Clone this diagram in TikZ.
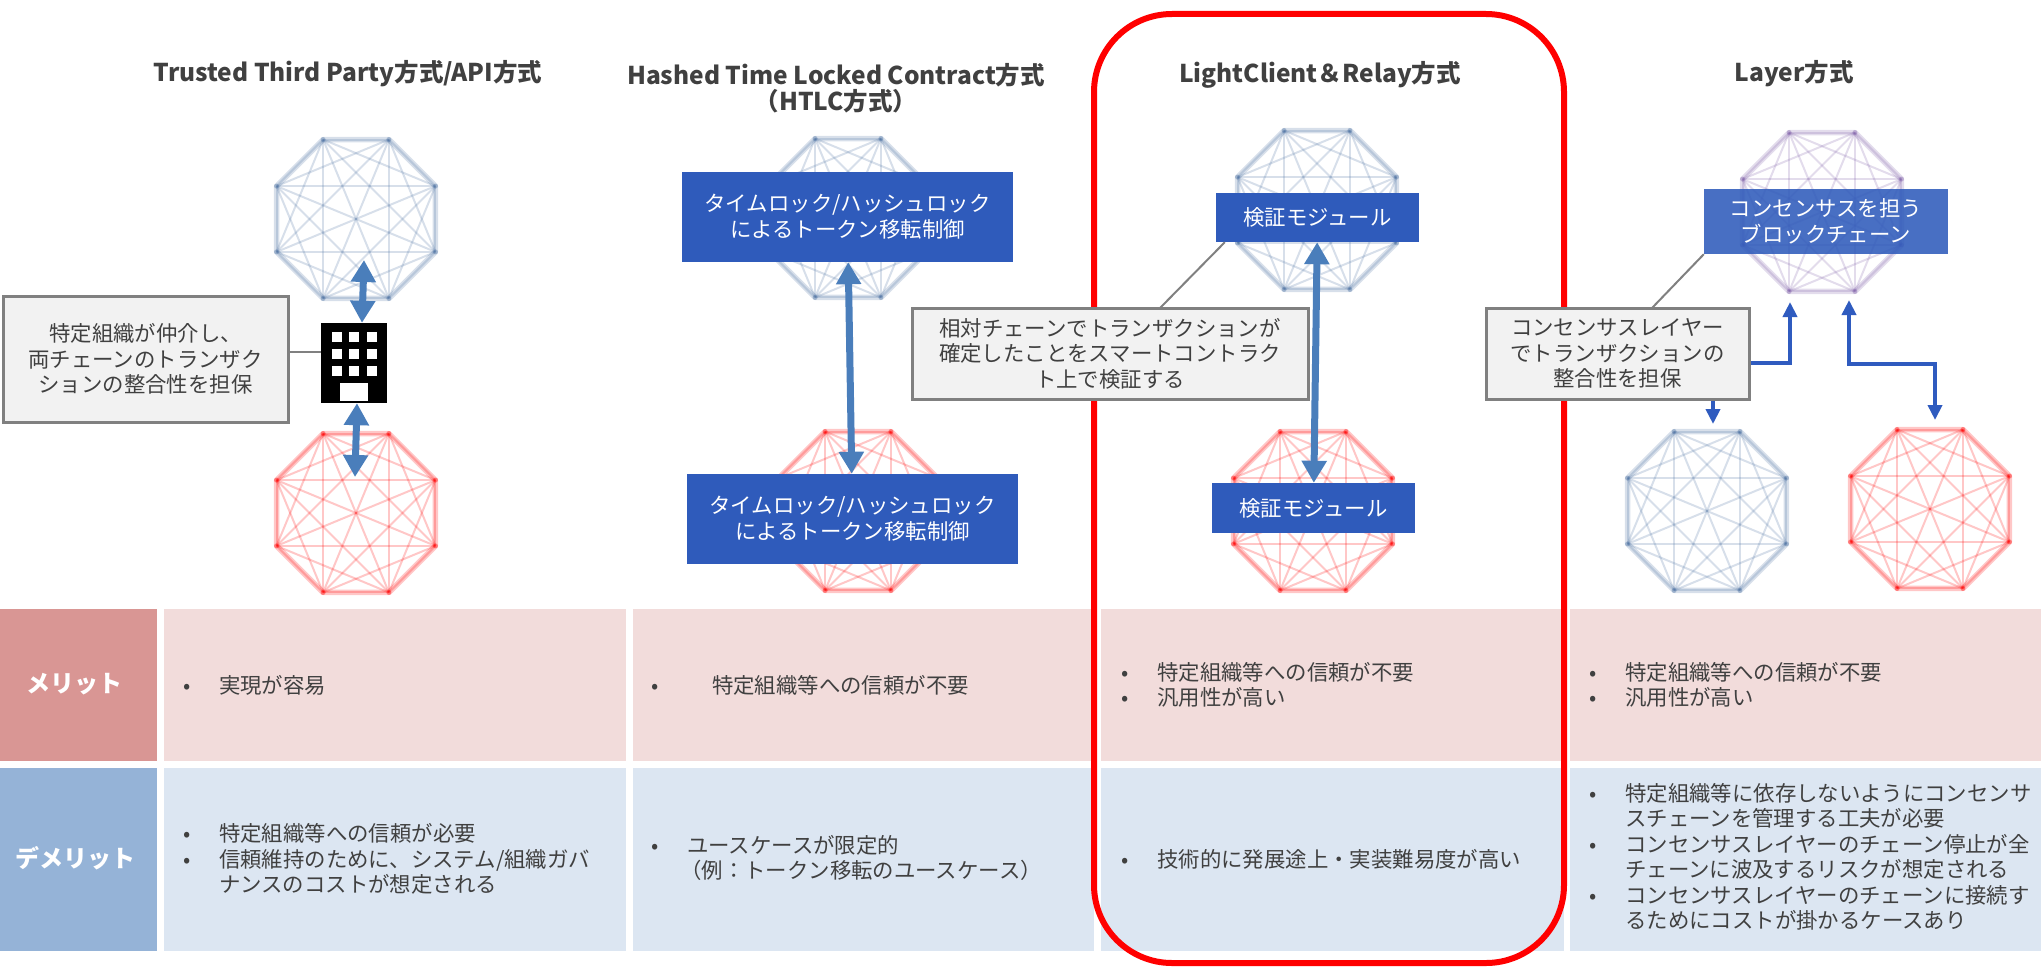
\documentclass[tikz,border=0pt]{standalone}
\usepackage{fontspec}
\setmainfont{Noto Sans CJK JP}
\usetikzlibrary{arrows.meta}

\definecolor{txtgray}{HTML}{404040}
\definecolor{boxblue}{HTML}{2F5BBB}
\definecolor{arrblue}{HTML}{4A7EBB}
\definecolor{layblue}{HTML}{2F5BBF}
\definecolor{chainblue}{HTML}{4A6FA0}
\definecolor{chainred}{HTML}{FF0000}
\definecolor{chainpurple}{HTML}{7F60A8}
\definecolor{meritHead}{HTML}{D99694}
\definecolor{meritCell}{HTML}{F2DCDB}
\definecolor{demeritHead}{HTML}{95B3D7}
\definecolor{demeritCell}{HTML}{DCE6F2}
\definecolor{noteFill}{HTML}{F2F2F2}
\definecolor{noteLine}{HTML}{808080}

% a chain drawn as a meshed octagon: centre x, centre y, colour
\newcommand{\chain}[3]{%
  \foreach \i in {0,...,7}
    \coordinate (p\i) at ({#1+86*cos(22.5+45*\i)},{#2+86*sin(22.5+45*\i)});
  \foreach \i in {0,...,6} {
    \pgfmathtruncatemacro{\k}{\i+1}
    \foreach \j in {\k,...,7}
      \draw[#3, line width=2, opacity=0.22] (p\i) -- (p\j);
  }
  \draw[#3, line width=5.5, opacity=0.22, line join=round]
    (p0) -- (p1) -- (p2) -- (p3) -- (p4) -- (p5) -- (p6) -- (p7) -- cycle;
  \foreach \i in {0,...,7}
    \fill[#3, opacity=0.4] (p\i) circle (2.5);
}

% bullets for the table
\newcommand{\itm}[1][36pt]{\makebox[#1][l]{•}}
\newcommand{\cont}{\hspace*{36pt}}

\tikzset{
  heading/.style={text=txtgray, align=center, font=\bfseries\fontsize{24.5}{26}\selectfont},
  bluebox/.style={fill=boxblue, text=white, inner sep=0, align=center,
    font=\fontsize{21.4}{26}\selectfont},
  notebox/.style={fill=noteFill, draw=noteLine, line width=3, text=txtgray,
    inner sep=0, align=center, font=\fontsize{21.4}{25.5}\selectfont},
  notelink/.style={draw=noteLine, line width=2},
  bigarrow/.style={draw=arrblue, line width=7,
    {Triangle[width=24pt,length=22pt]}-{Triangle[width=24pt,length=22pt]}},
  layarrow/.style={draw=layblue, line width=4,
    {Triangle[width=14pt,length=15pt]}-{Triangle[width=14pt,length=15pt]}},
  celltext/.style={anchor=west, text=txtgray, align=left, inner sep=0,
    font=\fontsize{21.4}{25.5}\selectfont},
  headtext/.style={text=white, font=\bfseries\fontsize{24}{28}\selectfont},
}

\begin{document}
\begin{tikzpicture}[x=1pt, y=-1pt]
    \useasboundingbox (0,0) rectangle (2041,966);

    % merit / demerit table
    \fill[meritHead] (0,609) rectangle (157,761);
    \fill[demeritHead] (0,768) rectangle (157,951);
    \node[headtext] (merit) at (75,684) {メリット};
    \node[headtext] (demerit) at (75,858) {デメリット};
    \foreach \cx/\cw in {164/462, 633/461, 1101/463, 1570/471} {
        \fill[meritCell] (\cx,609) rectangle ({\cx+\cw},761);
        \fill[demeritCell] (\cx,768) rectangle ({\cx+\cw},951);
    }

    \node[celltext] (c1m) at (183,685) {\itm 実現が容易};
    \node[celltext] (c1d) at (183,859) {\itm 特定組織等への信頼が必要\\
        \itm 信頼維持のために、システム/組織ガバ\\
        \cont ナンスのコストが想定される};
    \node[celltext] (c2m) at (651,685) {\itm[61pt]特定組織等への信頼が不要};
    \node[celltext] (c2d) at (651,858) {\itm ユースケースが限定的\\
        \hspace*{29pt}（例：トークン移転のユースケース）};
    \node[celltext] (c3m) at (1121,685) {\itm 特定組織等への信頼が不要\\
        \itm 汎用性が高い};
    \node[celltext] (c3d) at (1121,859) {\itm 技術的に発展途上・実装難易度が高い};
    \node[celltext] (c4m) at (1589,685) {\itm 特定組織等への信頼が不要\\
        \itm 汎用性が高い};
    \node[celltext] (c4d) at (1589,857) {\itm 特定組織等に依存しないようにコンセンサ\\
        \cont スチェーンを管理する工夫が必要\\
        \itm コンセンサスレイヤーのチェーン停止が全\\
        \cont チェーンに波及するリスクが想定される\\
        \itm コンセンサスレイヤーのチェーンに接続す\\
        \cont るためにコストが掛かるケースあり};

    % chains
    \chain{356}{219}{chainblue}
    \chain{356}{513}{chainred}
    \chain{848}{218}{chainblue}
    \chain{858}{511}{chainred}
    \chain{1317}{210}{chainblue}
    \chain{1313}{511}{chainred}
    \chain{1822}{212}{chainpurple}
    \chain{1707}{511}{chainblue}
    \chain{1930}{509}{chainred}

    % highlighted column
    \draw[red, line width=6, rounded corners=78] (1094,14) rectangle (1564,963);

    % titles
    \node[heading] (ttpTitle) at (348,74) {Trusted Third Party方式/API方式};
    \node[heading] (htlcTitle) at (836,88) {Hashed Time Locked Contract方式\\（HTLC方式）};
    \node[heading] (lcTitle) at (1320,75) {LightClient＆Relay方式};
    \node[heading] (layTitle) at (1794,74) {Layer方式};

    % trusted third party
    \node[fill=black, minimum width=66, minimum height=80, inner sep=0] (bldg) at (354,363) {};
    \foreach \x in {337,354,372}
        \foreach \y in {337,354,371}
            \fill[white] ({\x-5},{\y-5}) rectangle ({\x+5},{\y+5});
    \fill[white] (340,383) rectangle (368,401);
    \coordinate (ttpUp) at (364,260);
    \coordinate (ttpDown) at (355,477);
    \draw[bigarrow] (ttpUp) -- ([xshift=8pt]bldg.north);
    \draw[bigarrow] ([xshift=3pt]bldg.south) -- (ttpDown);
    \node[notebox, minimum width=285, minimum height=126] (ttpNote) at (145.5,359)
        {特定組織が仲介し、\\両チェーンのトランザク\\ションの整合性を担保};
    \coordinate (ttpLink) at (300,352);
    \draw[notelink] (ttpNote.east |- ttpLink) -- (bldg.west |- ttpLink);

    % HTLC
    \node[bluebox, minimum width=331, minimum height=90] (htlcA) at (847.5,217)
        {タイムロック/ハッシュロック\\によるトークン移転制御};
    \node[bluebox, minimum width=331, minimum height=90] (htlcB) at (852.5,519)
        {タイムロック/ハッシュロック\\によるトークン移転制御};
    \draw[bigarrow] (htlcA) -- (htlcB);

    % light client & relay
    \node[bluebox, minimum width=203, minimum height=49] (lcA) at (1317.5,217.5) {検証モジュール};
    \node[bluebox, minimum width=203, minimum height=50] (lcB) at (1313.5,508) {検証モジュール};
    \draw[bigarrow] (lcA) -- (lcB);
    \draw[notelink] ([xshift=50pt]1110,308) -- ([xshift=9pt]lcA.south west);
    \node[notebox, minimum width=396, minimum height=91] (lcNote) at (1110,353.5)
        {相対チェーンでトランザクションが\\確定したことをスマートコントラク\\ト上で検証する};

    % layer
    \coordinate (layUpA) at (1790,302);
    \coordinate (layDnA) at (1713,424);
    \coordinate (layUpB) at (1849,300);
    \coordinate (layDnB) at (1935,420);
    \draw[layarrow] (layUpA) -- ++(0,61) -| (layDnA);
    \draw[layarrow] (layUpB) -- ++(0,64) -| (layDnB);
    \node[bluebox, fill opacity=0.88, text opacity=1, minimum width=244, minimum height=65]
        (layA) at (1826,221.5) {コンセンサスを担う\\ブロックチェーン};
    \draw[notelink] (1652,308) -- (layA.south west);
    \node[notebox, minimum width=263, minimum height=91] (layNote) at (1617.5,353.5)
        {コンセンサスレイヤー\\でトランザクションの\\整合性を担保};
\end{tikzpicture}
\end{document}
